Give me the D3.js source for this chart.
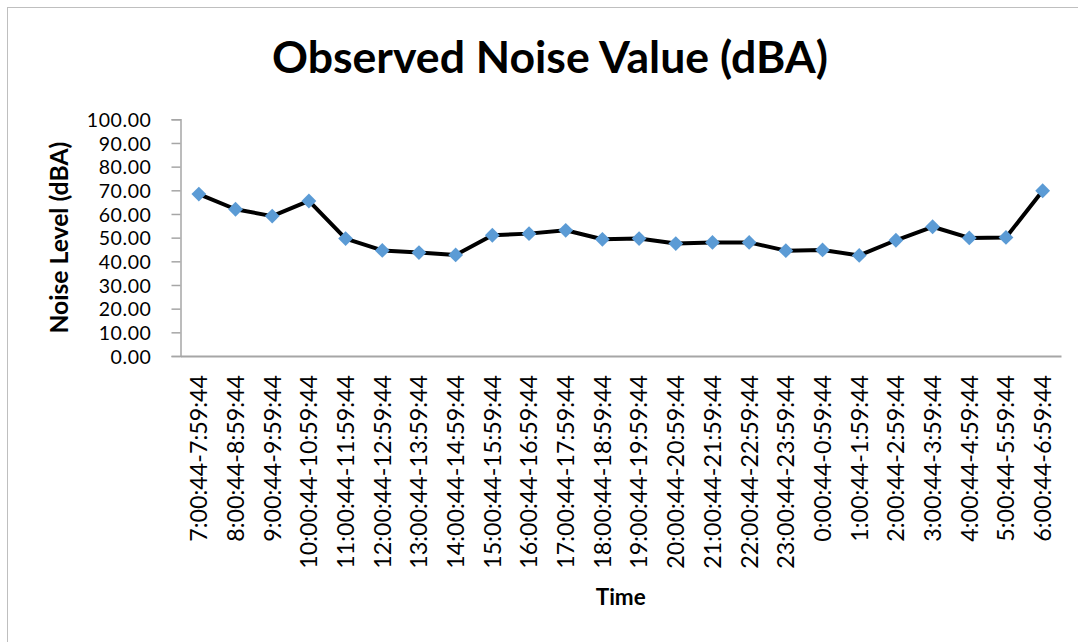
<!DOCTYPE html>
<html>
<head>
<meta charset="utf-8">
<script src="https://cdn.jsdelivr.net/npm/d3@7"></script>
<style>
  html, body { margin: 0; padding: 0; background: #fff; }
  svg { display: block; }
</style>
</head>
<body>
<svg id="chart" width="1078" height="642"></svg>
<script>
// Hourly intervals of the monitoring day
const categories = [
  "7:00:44-7:59:44", "8:00:44-8:59:44", "9:00:44-9:59:44", "10:00:44-10:59:44",
  "11:00:44-11:59:44", "12:00:44-12:59:44", "13:00:44-13:59:44", "14:00:44-14:59:44",
  "15:00:44-15:59:44", "16:00:44-16:59:44", "17:00:44-17:59:44", "18:00:44-18:59:44",
  "19:00:44-19:59:44", "20:00:44-20:59:44", "21:00:44-21:59:44", "22:00:44-22:59:44",
  "23:00:44-23:59:44", "0:00:44-0:59:44", "1:00:44-1:59:44", "2:00:44-2:59:44",
  "3:00:44-3:59:44", "4:00:44-4:59:44", "5:00:44-5:59:44", "6:00:44-6:59:44"
];
// Observed noise level for each interval (dBA)
const noiseValues = [
  68.4, 62.0, 59.1, 65.5, 49.6, 44.6, 43.7, 42.7,
  51.0, 51.7, 53.1, 49.3, 49.6, 47.5, 48.0, 48.0,
  44.5, 44.8, 42.5, 48.9, 54.6, 49.9, 50.1, 69.8
];
// Value-axis ticks
const yTicks = [0, 10, 20, 30, 40, 50, 60, 70, 80, 90, 100];

const titleText = "Observed Noise Value (dBA)";
const yTitleText = "Noise Level (dBA)";
const xTitleText = "Time";

const FONT = "Lato, 'Open Sans', 'Liberation Sans', sans-serif";
const svg = d3.select("#chart");

// Pick a font size so a string spans the wanted width
function fitSize(text, weight, width) {
  const t = svg.append("text")
    .attr("font-family", FONT).attr("font-weight", weight)
    .attr("font-size", 100).text(text);
  const w = t.node().getComputedTextLength();
  t.remove();
  return 100 * width / w;
}

// Chart frame
svg.append("rect")
  .attr("x", 7.5).attr("y", 7.5)
  .attr("width", 1100).attr("height", 700)
  .attr("fill", "#fff").attr("stroke", "#bfbfbf").attr("stroke-width", 1);

const plot = { left: 180.5, right: 1061, top: 119.3, bottom: 356 };

const x = d3.scaleBand()
  .domain(categories)
  .range([plot.left, plot.right]);

const y = d3.scaleLinear()
  .domain([0, 100])
  .range([plot.bottom, plot.top]);

// Title
svg.append("text")
  .attr("x", 550).attr("y", 73)
  .attr("text-anchor", "middle")
  .attr("font-family", FONT).attr("font-weight", 700)
  .attr("font-size", fitSize(titleText, 700, 556))
  .attr("fill", "#000")
  .text(titleText);

// Y axis
const yAxis = svg.append("g")
  .attr("transform", `translate(${plot.left},0)`)
  .call(d3.axisLeft(y).tickValues(yTicks).tickFormat(d3.format(".2f")).tickSize(9).tickPadding(20));
yAxis.select(".domain").attr("stroke", "#a6a6a6").attr("stroke-width", 1.5);
yAxis.selectAll(".tick line").attr("stroke", "#a6a6a6").attr("stroke-width", 1.5);
yAxis.selectAll(".tick text")
  .attr("font-family", FONT).attr("font-size", 19.5)
  .attr("letter-spacing", 0.6)
  .attr("fill", "#000").attr("dy", "0.36em");

// X axis
const xLabelSize = fitSize(categories[0], 400, 167);
const xAxis = svg.append("g")
  .attr("transform", `translate(0,${plot.bottom})`)
  .call(d3.axisBottom(x).tickSize(0).tickSizeOuter(0));
xAxis.select(".domain").attr("stroke", "#a6a6a6").attr("stroke-width", 2);
xAxis.selectAll(".tick text")
  .attr("font-family", FONT).attr("font-size", xLabelSize)
  .attr("fill", "#000")
  .attr("text-anchor", "end")
  .attr("transform", "rotate(-90)")
  .attr("x", -19).attr("y", 0).attr("dy", "0.36em");

// Axis titles
svg.append("text")
  .attr("transform", `translate(68,${(plot.top + plot.bottom) / 2}) rotate(-90)`)
  .attr("text-anchor", "middle")
  .attr("font-family", FONT).attr("font-weight", 700)
  .attr("font-size", fitSize(yTitleText, 700, 192))
  .attr("fill", "#000")
  .text(yTitleText);

svg.append("text")
  .attr("x", (plot.left + plot.right) / 2).attr("y", 605)
  .attr("text-anchor", "middle")
  .attr("font-family", FONT).attr("font-weight", 700)
  .attr("font-size", fitSize(xTitleText, 700, 50))
  .attr("fill", "#000")
  .text(xTitleText);

// Series line
const cx = d => x(d.cat) + x.bandwidth() / 2;
const points = categories.map((c, i) => ({ cat: c, v: noiseValues[i] }));

svg.append("path")
  .datum(points)
  .attr("fill", "none")
  .attr("stroke", "#000")
  .attr("stroke-width", 4)
  .attr("stroke-linejoin", "round")
  .attr("d", d3.line().x(cx).y(d => y(d.v)));

// Diamond markers
svg.append("g").selectAll("path")
  .data(points)
  .join("path")
  .attr("transform", d => `translate(${cx(d)},${y(d.v)}) rotate(45)`)
  .attr("d", d3.symbol().type(d3.symbolSquare).size(110))
  .attr("fill", "#5b9bd5");
</script>
</body>
</html>
